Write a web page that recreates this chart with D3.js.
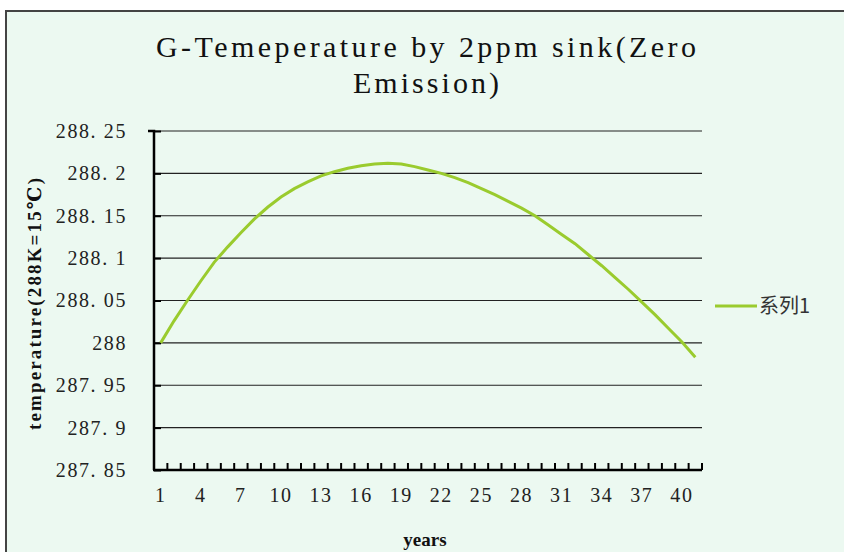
<!DOCTYPE html>
<html><head><meta charset="utf-8">
<script src="https://cdn.jsdelivr.net/npm/d3@7"></script>
<style>html,body{margin:0;padding:0;background:#fff;}svg{display:block;}</style>
</head><body>
<svg id="chart" width="844" height="552"></svg>
<script>
const years = d3.range(1, 42);
const temperature = [
  288.000, 288.026, 288.050, 288.073, 288.095, 288.113, 288.130, 288.146, 288.160, 288.172,
  288.182, 288.190, 288.197, 288.202, 288.206, 288.209, 288.211, 288.212, 288.211, 288.208,
  288.204, 288.200, 288.195, 288.189, 288.182, 288.175, 288.167, 288.159, 288.150, 288.139,
  288.128, 288.117, 288.104, 288.091, 288.077, 288.063, 288.048, 288.033, 288.017, 288.001,
  287.983
];
const yTicks = [287.85, 287.9, 287.95, 288, 288.05, 288.1, 288.15, 288.2, 288.25];
const yTickLabels = ["287. 85", "287. 9", "287. 95", "288", "288. 05", "288. 1", "288. 15", "288. 2", "288. 25"];
const xLabelYears = [1, 4, 7, 10, 13, 16, 19, 22, 25, 28, 31, 34, 37, 40];
const titleLines = ["G-Temeperature by 2ppm sink(Zero", "Emission)"];
const seriesName = "系列1";

const svg = d3.select("#chart");
const serif = "'Liberation Serif', 'DejaVu Serif', serif";

// background + border
svg.append("rect").attr("x", 6).attr("y", 11).attr("width", 846).attr("height", 550)
  .attr("fill", "#ecf9f1").attr("stroke", "#444").attr("stroke-width", 2);

const L = 154, R = 702, T = 131, B = 470;
const x = d3.scaleBand().domain(years).range([L, R]);
const y = d3.scaleLinear().domain([287.85, 288.25]).range([B, T]);

// gridlines
svg.append("g").selectAll("line").data(yTicks.slice(1)).join("line")
  .attr("x1", L).attr("x2", R).attr("y1", d => y(d)).attr("y2", d => y(d))
  .attr("stroke", "#222").attr("stroke-width", 1.2);

// y axis
const yAxis = d3.axisLeft(y).tickValues(yTicks).tickSize(6)
  .tickFormat((d, i) => yTickLabels[i]).tickPadding(21);
const gy = svg.append("g").attr("transform", `translate(${L},0)`).call(yAxis);
gy.select(".domain").attr("stroke", "#000").attr("stroke-width", 2.5).attr("d", `M-6,${T}H0V${B}`);
gy.selectAll(".tick line").attr("stroke", "#000").attr("stroke-width", 2).attr("x2", 7).attr("x1", 0);
gy.selectAll(".tick text").attr("font-family", serif).attr("font-size", 20)
  .attr("letter-spacing", 1.6).attr("fill", "#222");

// x axis: boundary ticks between categories
const boundaries = d3.range(0, years.length + 1).map(i => L + i * x.step());
svg.append("line").attr("x1", L - 1).attr("x2", R).attr("y1", B).attr("y2", B)
  .attr("stroke", "#000").attr("stroke-width", 2.5);
svg.append("g").selectAll("line").data(boundaries).join("line")
  .attr("x1", d => d).attr("x2", d => d).attr("y1", B).attr("y2", B - 7)
  .attr("stroke", "#000").attr("stroke-width", 2);
const xAxis = d3.axisBottom(x).tickValues(xLabelYears).tickSize(0).tickPadding(18);
const gx = svg.append("g").attr("transform", `translate(0,${B})`).call(xAxis);
gx.select(".domain").remove();
gx.selectAll(".tick text").attr("font-family", serif).attr("font-size", 20)
  .attr("letter-spacing", 1.6).attr("fill", "#222");

// line
const line = d3.line().x((d, i) => x(years[i]) + x.bandwidth() / 2).y(d => y(d));
svg.append("path").datum(temperature).attr("d", line)
  .attr("fill", "none").attr("stroke", "#9acb2e").attr("stroke-width", 3);

// title
const titleWidths = [540, 146];
svg.append("g").selectAll("text").data(titleLines).join("text")
  .attr("x", 426).attr("y", (d, i) => 57 + i * 36).attr("text-anchor", "middle")
  .attr("font-family", serif).attr("font-size", 30).attr("fill", "#111")
  .attr("textLength", (d, i) => titleWidths[i]).attr("lengthAdjust", "spacing")
  .text(d => d);

// axis titles
svg.append("text").attr("transform", "translate(41,304) rotate(-90)").attr("text-anchor", "middle")
  .attr("font-family", serif).attr("font-weight", "bold").attr("font-size", 19).attr("fill", "#111")
  .attr("textLength", 252).attr("lengthAdjust", "spacing")
  .text("temperature(288K=15℃)");
svg.append("text").attr("x", 425).attr("y", 546).attr("text-anchor", "middle")
  .attr("font-family", serif).attr("font-weight", "bold").attr("font-size", 19).attr("fill", "#111")
  .text("years");

// legend
svg.append("line").attr("x1", 715).attr("x2", 757).attr("y1", 306).attr("y2", 306)
  .attr("stroke", "#9acb2e").attr("stroke-width", 3);
svg.append("text").attr("x", 759).attr("y", 313)
  .attr("font-family", "'Noto Sans CJK SC', sans-serif").attr("font-size", 20).attr("fill", "#333")
  .text(seriesName);
</script>
</body></html>
